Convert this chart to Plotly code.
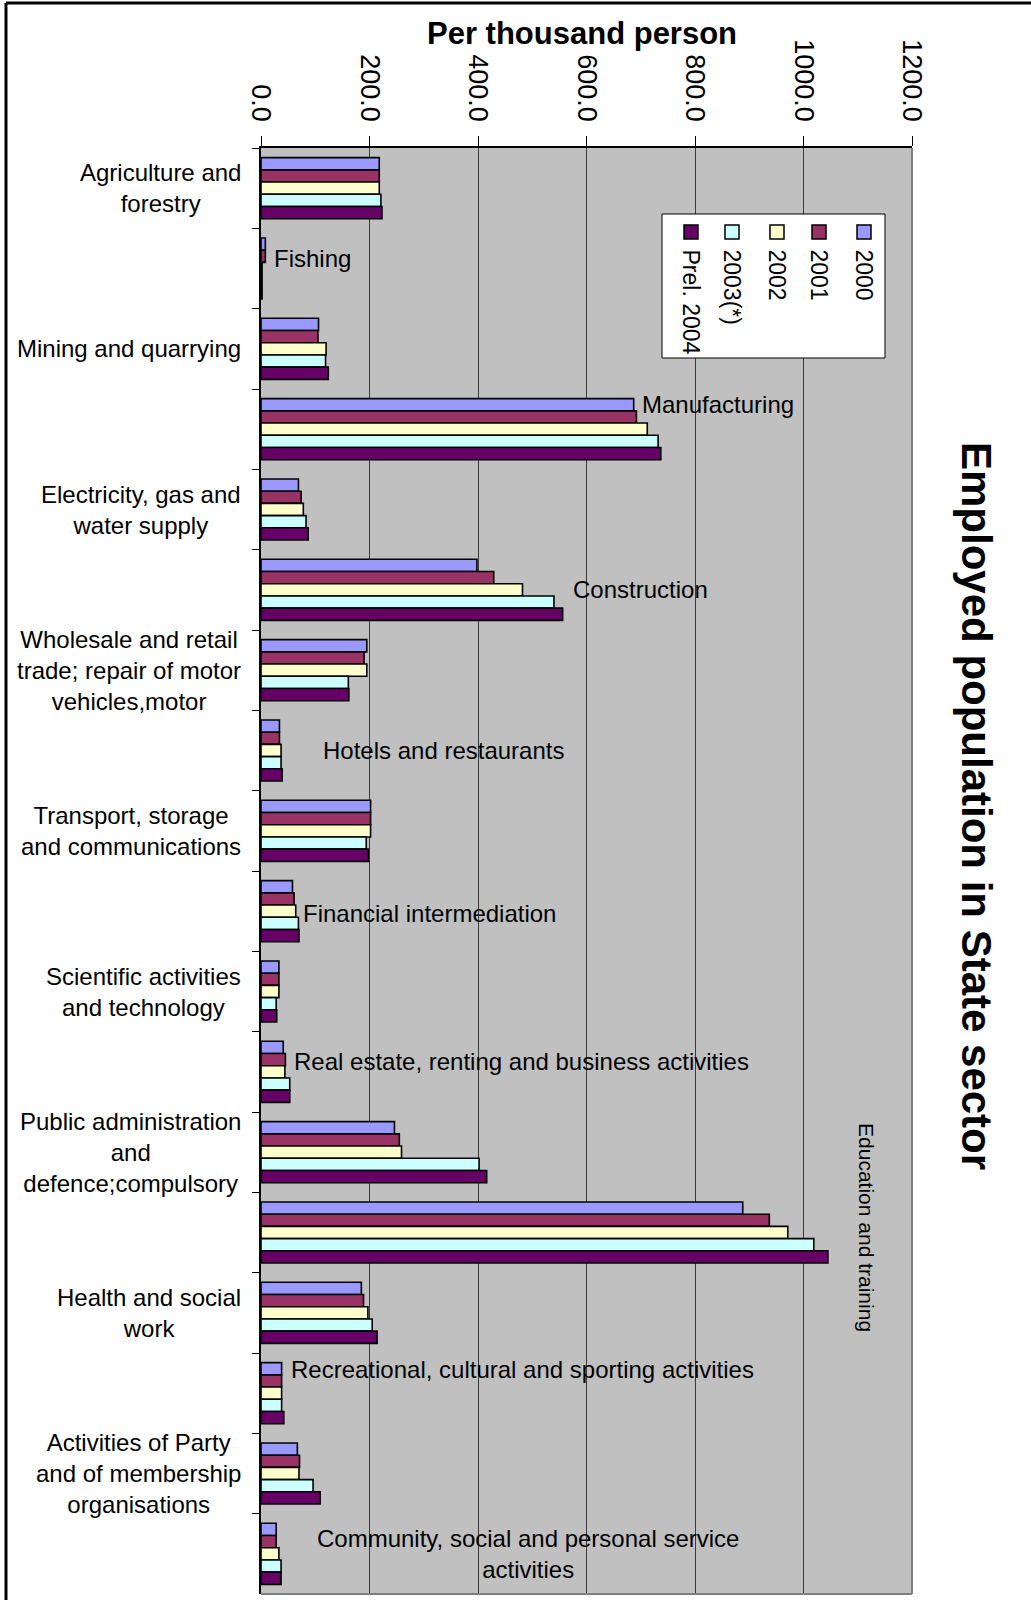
import plotly.graph_objects as go

# ---------------- data ----------------
categories = [
    "Agriculture and forestry", "Fishing", "Mining and quarrying", "Manufacturing",
    "Electricity, gas and water supply", "Construction",
    "Wholesale and retail trade; repair of motor vehicles,motor",
    "Hotels and restaurants", "Transport, storage and communications",
    "Financial intermediation", "Scientific activities and technology",
    "Real estate, renting and business activities",
    "Public administration and defence;compulsory", "Education and training",
    "Health and social work", "Recreational, cultural and sporting activities",
    "Activities of Party and of membership organisations",
    "Community, social and personal service activities",
]
series_names = ["2000", "2001", "2002", "2003(*)", "Prel. 2004"]
v2000 = [218, 8, 106, 687, 69, 398, 195, 34, 202, 58, 33, 41, 246, 888, 185, 38, 67, 28]
v2001 = [218, 8, 105, 692, 74, 429, 190, 34, 202, 61, 33, 45, 255, 937, 189, 38, 71, 28]
v2002 = [218, 2, 120, 712, 78, 482, 195, 37, 202, 64, 33, 44, 259, 971, 197, 38, 70, 33]
v2003 = [221, 2, 119, 732, 83, 540, 161, 37, 194, 69, 28, 53, 402, 1019, 205, 38, 96, 37]
v2004 = [223, 2, 124, 737, 87, 556, 162, 39, 198, 70, 29, 53, 416, 1045, 214, 42, 109, 37]
series_values = [v2000, v2001, v2002, v2003, v2004]
colors = ["#9999FF", "#993366", "#FFFFCC", "#CCFFFF", "#660066"]

# labels drawn at the left of the axis
left_labels = {
    "Agriculture and forestry": "Agriculture and<br>forestry",
    "Mining and quarrying": "Mining and quarrying",
    "Electricity, gas and water supply": "Electricity, gas and<br>water supply",
    "Wholesale and retail trade; repair of motor vehicles,motor": "Wholesale and retail<br>trade; repair of motor<br>vehicles,motor",
    "Transport, storage and communications": "Transport, storage<br>and communications",
    "Scientific activities and technology": "Scientific activities<br>and technology",
    "Public administration and defence;compulsory": "Public administration<br>and<br>defence;compulsory",
    "Health and social work": "Health and social<br>work",
    "Activities of Party and of membership organisations": "Activities of Party<br>and of membership<br>organisations",
}
# labels drawn inside the plot: text, x-centre (data units), vertical shift (px)
inner_labels = {
    "Fishing": ("Fishing", 95, 10),
    "Manufacturing": ("Manufacturing", 843, 25),
    "Construction": ("Construction", 700, 0),
    "Hotels and restaurants": ("Hotels and restaurants", 336, 0),
    "Financial intermediation": ("Financial intermediation", 310, -2),
    "Real estate, renting and business activities": ("Real estate, renting and business activities", 480, 10),
    "Recreational, cultural and sporting activities": ("Recreational, cultural and sporting activities", 482, 24),
    "Community, social and personal service activities": ("Community, social and personal service<br>activities", 492, 0),
}

W, H = 1031, 1600
ML, MR, MT, MB = 261, 119, 148, 6
PW, PH = W - ML - MR, H - MT - MB

def px(xp):  # page px -> paper x
    return (xp - ML) / PW

def py(yp):  # page px -> paper y
    return (H - MB - yp) / PH

FONT = "Liberation Sans, Arial, sans-serif"

fig = go.Figure()
for name, vals, col in zip(series_names, series_values, colors):
    fig.add_trace(go.Bar(
        y=categories, x=vals, name=name, orientation="h",
        marker=dict(color=col, line=dict(color="black", width=1.6)),
        showlegend=False,
    ))

ann = []
for cat, txt in left_labels.items():
    ann.append(dict(x=px(243), xref="paper", y=cat, yref="y", text=txt, showarrow=False,
                    xanchor="right", yanchor="middle", align="center",
                    font=dict(family=FONT, size=24, color="black")))
for cat, (txt, xc, up) in inner_labels.items():
    ann.append(dict(x=xc, xref="x", y=cat, yref="y", text=txt, showarrow=False,
                    xanchor="center", yanchor="middle", align="center", yshift=up,
                    font=dict(family=FONT, size=24, color="black")))
ann.append(dict(x=1116, xref="x", y="Education and training", yref="y", yshift=5,
                text="Education and training", textangle=90, showarrow=False,
                xanchor="center", yanchor="middle",
                font=dict(family=FONT, size=21, color="black")))
ann.append(dict(x=px(582), xref="paper", y=py(33), yref="paper",
                text="<b>Per thousand person</b>", showarrow=False,
                xanchor="center", yanchor="middle",
                font=dict(family=FONT, size=31, color="black")))
ann.append(dict(x=px(977), xref="paper", y=py(806), yref="paper",
                text="<b>Employed population in State sector</b>", textangle=90, showarrow=False,
                xanchor="center", yanchor="middle",
                font=dict(family=FONT, size=42, color="black")))

shapes = []
# outer frame (left and top edges visible)
shapes.append(dict(type="line", xref="paper", yref="paper", x0=px(6), x1=px(1040),
                   y0=py(3), y1=py(3), line=dict(color="black", width=3)))
shapes.append(dict(type="line", xref="paper", yref="paper", x0=px(6), x1=px(6),
                   y0=py(3), y1=py(1610), line=dict(color="black", width=3)))
# plot area border (right & bottom)
shapes.append(dict(type="line", xref="paper", yref="paper", x0=1, x1=1, y0=0, y1=1,
                   line=dict(color="#808080", width=2)))
shapes.append(dict(type="line", xref="paper", yref="paper", x0=0, x1=1, y0=0, y1=0,
                   line=dict(color="#808080", width=2)))
# legend box
shapes.append(dict(type="rect", xref="paper", yref="paper", x0=px(662), x1=px(885),
                   y0=py(358), y1=py(214), fillcolor="white", line=dict(color="black", width=1)))
leg_x = [864, 819, 777, 732, 691]
for xc, col, name in zip(leg_x, colors, series_names):
    shapes.append(dict(type="rect", xref="paper", yref="paper",
                       x0=px(xc - 7), x1=px(xc + 7), y0=py(239), y1=py(225),
                       fillcolor=col, line=dict(color="black", width=1.5)))
    ann.append(dict(x=px(xc), xref="paper", y=py(247), yref="paper", text=name,
                    textangle=90, showarrow=False, xanchor="center", yanchor="top",
                    font=dict(family=FONT, size=23, color="black")))

fig.update_layout(
    width=W, height=H,
    margin=dict(l=ML, r=MR, t=MT, b=MB, pad=0, autoexpand=False),
    paper_bgcolor="white", plot_bgcolor="#C0C0C0",
    barmode="group", bargap=0.24, bargroupgap=0,
    annotations=ann, shapes=shapes,
    font=dict(family=FONT, color="black"),
    xaxis=dict(side="top", range=[0, 1200], tick0=0, dtick=200, tickformat=".1f",
               tickangle=90, ticks="outside", ticklen=10, tickcolor="black",
               ticklabelstandoff=5, automargin=False,
               showline=True, linecolor="black", linewidth=1.5,
               showgrid=True, gridcolor="#3a3a3a", gridwidth=1, zeroline=False,
               tickfont=dict(family=FONT, size=27)),
    yaxis=dict(type="category", categoryorder="array", categoryarray=categories,
               autorange="reversed", showticklabels=False, ticks="outside",
               tickson="boundaries", ticklen=7, tickcolor="black", automargin=False,
               showline=True, linecolor="black", linewidth=1.5, showgrid=False),
)
fig.write_html("out.html", config={"displayModeBar": False},
               post_script="document.body.style.margin='0px';")
